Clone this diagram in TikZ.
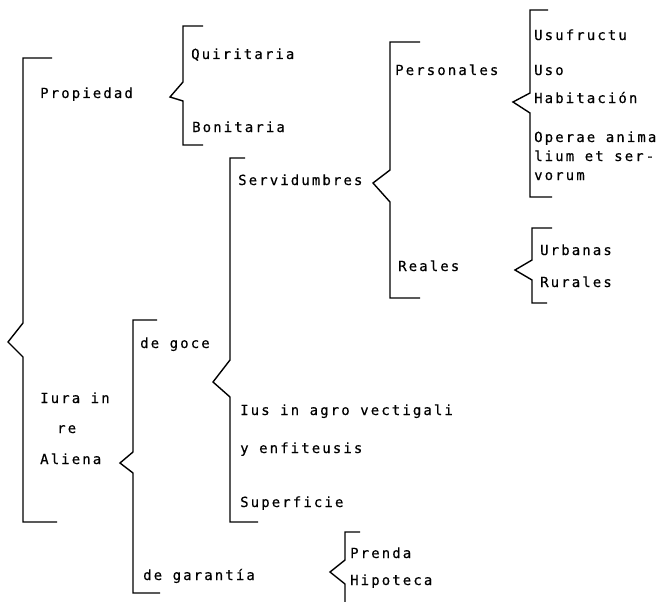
\documentclass[tikz,border=0pt]{standalone}
\usepackage{fontspec}
\newfontfamily\twfont[LetterSpace=15,FakeBold=0.4]{DejaVu Sans Mono}
\begin{document}
\begin{tikzpicture}[x=1pt,y=-1pt,
  lbl/.style={anchor=base west, inner sep=0pt, font=\twfont\fontsize{14}{17}\selectfont},
  brk/.style={line width=1.4pt, line join=miter}]
\fill[white] (0,0) rectangle (670,602);
\useasboundingbox (0,0) rectangle (670,602);
% texts
\node[lbl] (prop) at (40,98) {Propiedad};
\node[lbl] (quir) at (191,59) {Quiritaria};
\node[lbl] (boni) at (192,132) {Bonitaria};
\node[lbl] (serv) at (238,185) {Servidumbres};
\node[lbl] (pers) at (395,75) {Personales};
\node[lbl] (real) at (398,271) {Reales};
\node[lbl] (usuf) at (534,40) {Usufructu};
\node[lbl] (uso) at (534,75) {Uso};
\node[lbl] (habi) at (534,103) {Habitación};
\node[lbl] (opa) at (534,142) {Operae anima};
\node[lbl] (opb) at (534,161) {lium et ser-};
\node[lbl] (opc) at (534,180) {vorum};
\node[lbl] (urba) at (540,255) {Urbanas};
\node[lbl] (rura) at (540,287) {Rurales};
\node[lbl] (goce) at (140,348) {de goce};
\node[lbl] (iura) at (40,403) {Iura in};
\node[lbl] (re) at (57,433) {re};
\node[lbl] (alie) at (40,464) {Aliena};
\node[lbl] (ius) at (240,415) {Ius in agro vectigali};
\node[lbl] (enfi) at (240,453) {y enfiteusis};
\node[lbl] (supe) at (240,507) {Superficie};
\node[lbl] (gara) at (143,580) {de garantía};
\node[lbl] (pren) at (350,558) {Prenda};
\node[lbl] (hipo) at (350,585) {Hipoteca};
% brackets
\draw[brk] (52,58) -- (23,58) -- (23,323) -- (8,342) -- (23,357) -- (23,522) -- (57,522);
\draw[brk] (203,26) -- (183,26) -- (183,82) -- (170,97) -- (183,101) -- (183,145) -- (203,145);
\draw[brk] (245,158) -- (230,158) -- (230,360) -- (213,382) -- (230,397) -- (230,522) -- (258,522);
\draw[brk] (420,42) -- (390,42) -- (390,170) -- (373,183) -- (390,202) -- (390,298) -- (420,298);
\draw[brk] (548,10) -- (530,10) -- (530,93) -- (513,102) -- (530,113) -- (530,197) -- (552,197);
\draw[brk] (552,228) -- (532,228) -- (532,260) -- (515,270) -- (532,280) -- (532,303) -- (547,303);
\draw[brk] (157,320) -- (133,320) -- (133,452) -- (120,463) -- (133,473) -- (133,593) -- (160,593);
\draw[brk] (360,532) -- (345,532) -- (345,560) -- (330,572) -- (345,584) -- (345,602);
\end{tikzpicture}
\end{document}
